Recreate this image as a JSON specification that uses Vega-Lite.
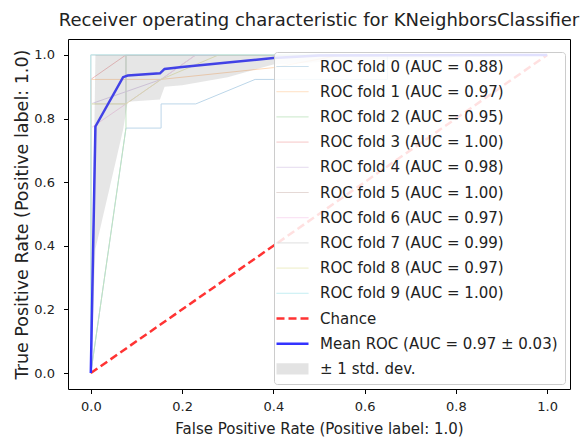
{
  "$schema": "https://vega.github.io/schema/vega-lite/v6.json",
  "width": 502,
  "height": 350,
  "autosize": "none",
  "padding": {"left": 68, "top": 39, "right": 13, "bottom": 49},
  "config": {
    "font": "DejaVu Sans",
    "view": {"stroke": "#000000", "strokeWidth": 1},
    "axis": {"grid": false, "domain": false, "tickColor": "#000000", "tickSize": 4.5, "labelFontSize": 13, "labelColor": "#222222", "titleFontSize": 15, "titleFontWeight": "normal", "titleColor": "#222222"}
  },
  "title": {"text": "Receiver operating characteristic for KNeighborsClassifier", "fontSize": 18, "fontWeight": "normal", "color": "#222222", "offset": 9},
  "datasets": {
    "folds": [
      {"series": "ROC fold 0 (AUC = 0.88)", "i": 0, "fpr": 0, "tpr": 0},
      {"series": "ROC fold 0 (AUC = 0.88)", "i": 1, "fpr": 0.077, "tpr": 0.77},
      {"series": "ROC fold 0 (AUC = 0.88)", "i": 2, "fpr": 0.154, "tpr": 0.77},
      {"series": "ROC fold 0 (AUC = 0.88)", "i": 3, "fpr": 0.154, "tpr": 0.846},
      {"series": "ROC fold 0 (AUC = 0.88)", "i": 4, "fpr": 0.23, "tpr": 0.846},
      {"series": "ROC fold 0 (AUC = 0.88)", "i": 5, "fpr": 0.36, "tpr": 0.923},
      {"series": "ROC fold 0 (AUC = 0.88)", "i": 6, "fpr": 0.65, "tpr": 0.923},
      {"series": "ROC fold 0 (AUC = 0.88)", "i": 7, "fpr": 0.65, "tpr": 1},
      {"series": "ROC fold 0 (AUC = 0.88)", "i": 8, "fpr": 1, "tpr": 1},
      {"series": "ROC fold 1 (AUC = 0.97)", "i": 0, "fpr": 0, "tpr": 0},
      {"series": "ROC fold 1 (AUC = 0.97)", "i": 1, "fpr": 0, "tpr": 0.923},
      {"series": "ROC fold 1 (AUC = 0.97)", "i": 2, "fpr": 0.154, "tpr": 0.923},
      {"series": "ROC fold 1 (AUC = 0.97)", "i": 3, "fpr": 0.4, "tpr": 0.96},
      {"series": "ROC fold 1 (AUC = 0.97)", "i": 4, "fpr": 0.55, "tpr": 1},
      {"series": "ROC fold 1 (AUC = 0.97)", "i": 5, "fpr": 1, "tpr": 1},
      {"series": "ROC fold 2 (AUC = 0.95)", "i": 0, "fpr": 0, "tpr": 0},
      {"series": "ROC fold 2 (AUC = 0.95)", "i": 1, "fpr": 0.077, "tpr": 0.77},
      {"series": "ROC fold 2 (AUC = 0.95)", "i": 2, "fpr": 0.077, "tpr": 1},
      {"series": "ROC fold 2 (AUC = 0.95)", "i": 3, "fpr": 1, "tpr": 1},
      {"series": "ROC fold 3 (AUC = 1.00)", "i": 0, "fpr": 0, "tpr": 0},
      {"series": "ROC fold 3 (AUC = 1.00)", "i": 1, "fpr": 0, "tpr": 0.923},
      {"series": "ROC fold 3 (AUC = 1.00)", "i": 2, "fpr": 0.077, "tpr": 1},
      {"series": "ROC fold 3 (AUC = 1.00)", "i": 3, "fpr": 1, "tpr": 1},
      {"series": "ROC fold 4 (AUC = 0.98)", "i": 0, "fpr": 0, "tpr": 0},
      {"series": "ROC fold 4 (AUC = 0.98)", "i": 1, "fpr": 0, "tpr": 0.846},
      {"series": "ROC fold 4 (AUC = 0.98)", "i": 2, "fpr": 0.154, "tpr": 0.923},
      {"series": "ROC fold 4 (AUC = 0.98)", "i": 3, "fpr": 0.23, "tpr": 1},
      {"series": "ROC fold 4 (AUC = 0.98)", "i": 4, "fpr": 1, "tpr": 1},
      {"series": "ROC fold 5 (AUC = 1.00)", "i": 0, "fpr": 0, "tpr": 0},
      {"series": "ROC fold 5 (AUC = 1.00)", "i": 1, "fpr": 0, "tpr": 1},
      {"series": "ROC fold 5 (AUC = 1.00)", "i": 2, "fpr": 1, "tpr": 1},
      {"series": "ROC fold 6 (AUC = 0.97)", "i": 0, "fpr": 0, "tpr": 0},
      {"series": "ROC fold 6 (AUC = 0.97)", "i": 1, "fpr": 0, "tpr": 0.77},
      {"series": "ROC fold 6 (AUC = 0.97)", "i": 2, "fpr": 0.077, "tpr": 0.846},
      {"series": "ROC fold 6 (AUC = 0.97)", "i": 3, "fpr": 0.154, "tpr": 0.923},
      {"series": "ROC fold 6 (AUC = 0.97)", "i": 4, "fpr": 0.23, "tpr": 1},
      {"series": "ROC fold 6 (AUC = 0.97)", "i": 5, "fpr": 1, "tpr": 1},
      {"series": "ROC fold 7 (AUC = 0.99)", "i": 0, "fpr": 0, "tpr": 0},
      {"series": "ROC fold 7 (AUC = 0.99)", "i": 1, "fpr": 0, "tpr": 0.846},
      {"series": "ROC fold 7 (AUC = 0.99)", "i": 2, "fpr": 0.077, "tpr": 0.846},
      {"series": "ROC fold 7 (AUC = 0.99)", "i": 3, "fpr": 0.077, "tpr": 1},
      {"series": "ROC fold 7 (AUC = 0.99)", "i": 4, "fpr": 1, "tpr": 1},
      {"series": "ROC fold 8 (AUC = 0.97)", "i": 0, "fpr": 0, "tpr": 0},
      {"series": "ROC fold 8 (AUC = 0.97)", "i": 1, "fpr": 0, "tpr": 0.846},
      {"series": "ROC fold 8 (AUC = 0.97)", "i": 2, "fpr": 0.077, "tpr": 0.846},
      {"series": "ROC fold 8 (AUC = 0.97)", "i": 3, "fpr": 0.154, "tpr": 0.923},
      {"series": "ROC fold 8 (AUC = 0.97)", "i": 4, "fpr": 0.28, "tpr": 1},
      {"series": "ROC fold 8 (AUC = 0.97)", "i": 5, "fpr": 1, "tpr": 1},
      {"series": "ROC fold 9 (AUC = 1.00)", "i": 0, "fpr": 0, "tpr": 0},
      {"series": "ROC fold 9 (AUC = 1.00)", "i": 1, "fpr": 0, "tpr": 1},
      {"series": "ROC fold 9 (AUC = 1.00)", "i": 2, "fpr": 1, "tpr": 1}
    ],
    "chance": [
      {"series": "Chance", "i": 0, "fpr": 0, "tpr": 0},
      {"series": "Chance", "i": 1, "fpr": 1, "tpr": 1}
    ],
    "mean": [
      {"series": "Mean ROC (AUC = 0.97 ± 0.03)", "i": 0, "fpr": 0, "tpr": 0},
      {"series": "Mean ROC (AUC = 0.97 ± 0.03)", "i": 1, "fpr": 0.0101, "tpr": 0.775},
      {"series": "Mean ROC (AUC = 0.97 ± 0.03)", "i": 2, "fpr": 0.0707, "tpr": 0.93},
      {"series": "Mean ROC (AUC = 0.97 ± 0.03)", "i": 3, "fpr": 0.0808, "tpr": 0.935},
      {"series": "Mean ROC (AUC = 0.97 ± 0.03)", "i": 4, "fpr": 0.1515, "tpr": 0.942},
      {"series": "Mean ROC (AUC = 0.97 ± 0.03)", "i": 5, "fpr": 0.1616, "tpr": 0.956},
      {"series": "Mean ROC (AUC = 0.97 ± 0.03)", "i": 6, "fpr": 0.2, "tpr": 0.962},
      {"series": "Mean ROC (AUC = 0.97 ± 0.03)", "i": 7, "fpr": 0.3, "tpr": 0.976},
      {"series": "Mean ROC (AUC = 0.97 ± 0.03)", "i": 8, "fpr": 0.4, "tpr": 0.99},
      {"series": "Mean ROC (AUC = 0.97 ± 0.03)", "i": 9, "fpr": 0.5, "tpr": 0.998},
      {"series": "Mean ROC (AUC = 0.97 ± 0.03)", "i": 10, "fpr": 1, "tpr": 1}
    ],
    "band": [
      {"series": "± 1 std. dev.", "fpr": 0, "lo": 0, "hi": 0},
      {"series": "± 1 std. dev.", "fpr": 0.0101, "lo": 0.39, "hi": 1},
      {"series": "± 1 std. dev.", "fpr": 0.0707, "lo": 0.765, "hi": 1},
      {"series": "± 1 std. dev.", "fpr": 0.0808, "lo": 0.853, "hi": 1},
      {"series": "± 1 std. dev.", "fpr": 0.1515, "lo": 0.86, "hi": 1},
      {"series": "± 1 std. dev.", "fpr": 0.1616, "lo": 0.9, "hi": 1},
      {"series": "± 1 std. dev.", "fpr": 0.2, "lo": 0.905, "hi": 1},
      {"series": "± 1 std. dev.", "fpr": 0.3, "lo": 0.93, "hi": 1},
      {"series": "± 1 std. dev.", "fpr": 0.4, "lo": 0.97, "hi": 1},
      {"series": "± 1 std. dev.", "fpr": 0.6, "lo": 0.985, "hi": 1},
      {"series": "± 1 std. dev.", "fpr": 1, "lo": 1, "hi": 1}
    ]
  },
  "layer": [
    {
      "data": {"name": "folds"},
      "mark": {"type": "line", "strokeWidth": 1},
      "encoding": {
        "x": {"field": "fpr", "type": "quantitative", "scale": {"domain": [-0.05, 1.05], "nice": false, "zero": false},
          "axis": {"values": [0, 0.2, 0.4, 0.6, 0.8, 1.0], "format": ".1f", "labelPadding": 7, "title": "False Positive Rate (Positive label: 1.0)", "titlePadding": 8}},
        "y": {"field": "tpr", "type": "quantitative", "scale": {"domain": [-0.05, 1.05], "nice": false, "zero": false},
          "axis": {"values": [0, 0.2, 0.4, 0.6, 0.8, 1.0], "format": ".1f", "labelPadding": 9, "title": "True Positive Rate (Positive label: 1.0)", "titleFontSize": 17.5, "titlePadding": 2}},
        "order": {"field": "i", "type": "quantitative"},
        "color": {"field": "series", "type": "nominal",
          "scale": {
            "domain": ["ROC fold 0 (AUC = 0.88)", "ROC fold 1 (AUC = 0.97)", "ROC fold 2 (AUC = 0.95)", "ROC fold 3 (AUC = 1.00)", "ROC fold 4 (AUC = 0.98)", "ROC fold 5 (AUC = 1.00)", "ROC fold 6 (AUC = 0.97)", "ROC fold 7 (AUC = 0.99)", "ROC fold 8 (AUC = 0.97)", "ROC fold 9 (AUC = 1.00)", "Chance", "Mean ROC (AUC = 0.97 ± 0.03)", "± 1 std. dev."],
            "range": ["#bcd6e9", "#ffd9b7", "#c0e3c0", "#f3bebf", "#dfd1eb", "#ddccc9", "#f7d6ed", "#d9d9d9", "#ebebbd", "#b9ecf1", "#ff3333", "#3333ff", "#808080"]
          },
          "legend": {
            "title": null,
            "orient": "bottom-right",
            "offset": 5,
            "padding": 7,
            "fillColor": "rgba(255,255,255,0.85)",
            "strokeColor": "#cccccc",
            "cornerRadius": 3,
            "symbolType": "stroke",
            "symbolSize": 256,
            "symbolOffset": 4,
            "symbolStrokeWidth": 1,
            "labelFontSize": 15,
            "labelColor": "#222222",
            "labelOffset": 20,
            "labelLimit": 400,
            "rowPadding": 9.2,
            "encode": {
              "symbols": {
                "update": {
                  "shape": {"signal": "datum.label == '± 1 std. dev.' ? 'M-2,-0.7H2V0.7H-2Z' : 'M-2,0H2'"},
                  "strokeWidth": {"signal": "(datum.label == 'Chance' || datum.label == 'Mean ROC (AUC = 0.97 ± 0.03)') ? 2.5 : (datum.label == '± 1 std. dev.' ? 0 : 1)"},
                  "strokeDash": {"signal": "datum.label == 'Chance' ? [8, 4] : [1, 0]"},
                  "opacity": {"signal": "datum.label == '± 1 std. dev.' ? 0.22 : 1"}
                }
              }
            }
          }
        }
      }
    },
    {
      "data": {"name": "chance"},
      "mark": {"type": "line", "strokeWidth": 2.5, "strokeDash": [8, 4]},
      "encoding": {
        "x": {"field": "fpr", "type": "quantitative"},
        "y": {"field": "tpr", "type": "quantitative"},
        "order": {"field": "i", "type": "quantitative"},
        "color": {"field": "series", "type": "nominal"}
      }
    },
    {
      "data": {"name": "mean"},
      "mark": {"type": "line", "strokeWidth": 2.5},
      "encoding": {
        "x": {"field": "fpr", "type": "quantitative"},
        "y": {"field": "tpr", "type": "quantitative"},
        "order": {"field": "i", "type": "quantitative"},
        "color": {"field": "series", "type": "nominal"}
      }
    },
    {
      "data": {"name": "band"},
      "mark": {"type": "area", "opacity": 0.2},
      "encoding": {
        "x": {"field": "fpr", "type": "quantitative"},
        "y": {"field": "lo", "type": "quantitative"},
        "y2": {"field": "hi"},
        "color": {"field": "series", "type": "nominal"}
      }
    }
  ]
}
